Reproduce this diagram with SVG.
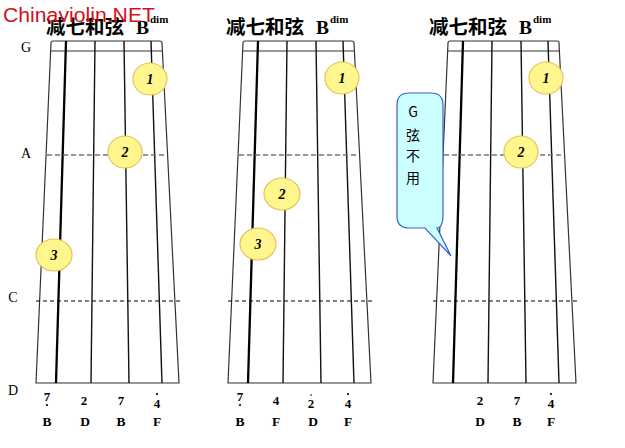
<svg xmlns="http://www.w3.org/2000/svg" width="625" height="448" viewBox="0 0 625 448">
<style>
.ol{stroke:#333;stroke-width:1.2;fill:none}
.st{stroke:#111;stroke-width:1.4}
.g{stroke:#000;stroke-width:2.3}
.da{stroke:#777;stroke-width:1.5;stroke-dasharray:5 3}
.dc{stroke:#000;stroke-width:1;stroke-dasharray:4 3}
.fc{fill:#FFF78E;stroke:#E5C35A;stroke-width:1.2}
.fn{font-family:"Liberation Serif",serif;font-style:italic;font-weight:bold;font-size:14px;text-anchor:middle;fill:#000}
.tt{font-family:"Liberation Serif","Noto Sans CJK SC",serif;font-weight:bold;font-size:19.5px;fill:#000}
.sup{font-family:"Liberation Serif",serif;font-weight:bold;font-size:11px;fill:#000}
.sl{font-family:"Liberation Serif",serif;font-size:14px;fill:#000;text-anchor:middle}
.nm{font-family:"Liberation Serif",serif;font-weight:bold;font-size:13px;fill:#000;text-anchor:middle}
.lt{font-family:"Liberation Serif",serif;font-weight:bold;font-size:13.5px;fill:#000;text-anchor:middle}
.cl{font-family:"Noto Sans CJK SC",sans-serif;font-size:14px;fill:#000;text-anchor:middle}
</style>
<defs>
<g id="board">
<path class="ol" d="M36,383 L51,43 Q51,41 53,41 L160,41 Q162,41 162,43 L179,383 Z"/>
<line class="ol" x1="51" y1="51" x2="162.5" y2="51"/>
<line class="g" x1="66" y1="41" x2="56" y2="383"/>
<line class="st" x1="95" y1="41" x2="91" y2="383"/>
<line class="st" x1="124" y1="41" x2="129" y2="383"/>
<line class="st" x1="151" y1="41" x2="162" y2="383"/>
<line class="da" x1="47" y1="155" x2="167" y2="155"/>
<line class="dc" x1="36" y1="301" x2="180" y2="301"/>
</g>
</defs>
<rect width="625" height="448" fill="#fff"/>
<g id="string-labels">
<text class="sl" x="26" y="52">G</text>
<text class="sl" x="26" y="158">A</text>
<text class="sl" x="13" y="302">C</text>
<text class="sl" x="13" y="395">D</text>
</g>
<g id="chart1">
<text class="tt" x="46" y="34">减七和弦</text>
<text class="tt" x="136" y="34">B</text>
<text class="sup" x="150" y="23">dim</text>
<use href="#board"/>
<g id="c1-f1"><ellipse class="fc" cx="150" cy="79" rx="17" ry="16"/><text class="fn" x="150" y="84">1</text></g>
<g id="c1-f2"><ellipse class="fc" cx="125" cy="152" rx="17" ry="16"/><text class="fn" x="125" y="157">2</text></g>
<g id="c1-f3"><ellipse class="fc" cx="54" cy="255" rx="18" ry="16"/><text class="fn" x="54" y="260">3</text></g>
<g id="c1-notes">
<text class="nm" x="47" y="401">7</text><circle cx="47" cy="405" r="1.1"/>
<text class="nm" x="84" y="405">2</text>
<text class="nm" x="121" y="405">7</text>
<text class="nm" x="157" y="408">4</text><circle cx="157" cy="394" r="1.1"/>
<text class="lt" x="47" y="426">B</text>
<text class="lt" x="85" y="426">D</text>
<text class="lt" x="121" y="426">B</text>
<text class="lt" x="157" y="426">F</text>
</g>
</g>
<g id="chart2">
<text class="tt" x="226" y="34">减七和弦</text>
<text class="tt" x="316" y="34">B</text>
<text class="sup" x="330" y="23">dim</text>
<use href="#board" transform="translate(192,0)"/>
<g id="c2-f1"><ellipse class="fc" cx="342" cy="78" rx="17" ry="16"/><text class="fn" x="342" y="83">1</text></g>
<g id="c2-f2"><ellipse class="fc" cx="282" cy="194" rx="18" ry="16"/><text class="fn" x="282" y="199">2</text></g>
<g id="c2-f3"><ellipse class="fc" cx="258" cy="244" rx="18" ry="16"/><text class="fn" x="258" y="249">3</text></g>
<g id="c2-notes">
<text class="nm" x="240" y="401">7</text><circle cx="240" cy="405" r="1.1"/>
<text class="nm" x="276" y="405">4</text>
<text class="nm" x="311" y="408">2</text><circle cx="311" cy="395" r="0.9" fill="#555"/>
<text class="nm" x="348" y="408">4</text><circle cx="348" cy="394" r="1.1"/>
<text class="lt" x="240" y="426">B</text>
<text class="lt" x="276" y="426">F</text>
<text class="lt" x="313" y="426">D</text>
<text class="lt" x="348" y="426">F</text>
</g>
</g>
<g id="chart3">
<text class="tt" x="429" y="34">减七和弦</text>
<text class="tt" x="519" y="34">B</text>
<text class="sup" x="533" y="23">dim</text>
<use href="#board" transform="translate(397,0)"/>
<g id="c3-f1"><ellipse class="fc" cx="546" cy="78" rx="17" ry="16"/><text class="fn" x="546" y="83">1</text></g>
<g id="c3-f2"><ellipse class="fc" cx="521" cy="152" rx="17" ry="16"/><text class="fn" x="521" y="157">2</text></g>
<g id="c3-notes">
<text class="nm" x="480" y="405">2</text>
<text class="nm" x="517" y="405">7</text>
<text class="nm" x="551" y="408">4</text><circle cx="551" cy="394" r="1.1"/>
<text class="lt" x="480" y="426">D</text>
<text class="lt" x="517" y="426">B</text>
<text class="lt" x="551" y="426">F</text>
</g>
<g id="c3-callout">
<path d="M409,93 H431 Q443,93 443,105 V214 Q443,228 437,228 L451,256 L425,228 H409 Q397,228 397,216 V105 Q397,93 409,93 Z" fill="#CCFFFF" stroke="#3A5FCD" stroke-width="1.2"/>
<text class="cl" x="413" y="117">G</text>
<text class="cl" x="413" y="140">弦</text>
<text class="cl" x="413" y="161">不</text>
<text class="cl" x="413" y="183">用</text>
</g>
</g>
<g id="watermark">
<text x="3" y="22" font-family="'Liberation Sans',sans-serif" font-size="20.5" fill="#D0101A" textLength="152" lengthAdjust="spacingAndGlyphs">Chinaviolin.NET</text>
</g>
</svg>
